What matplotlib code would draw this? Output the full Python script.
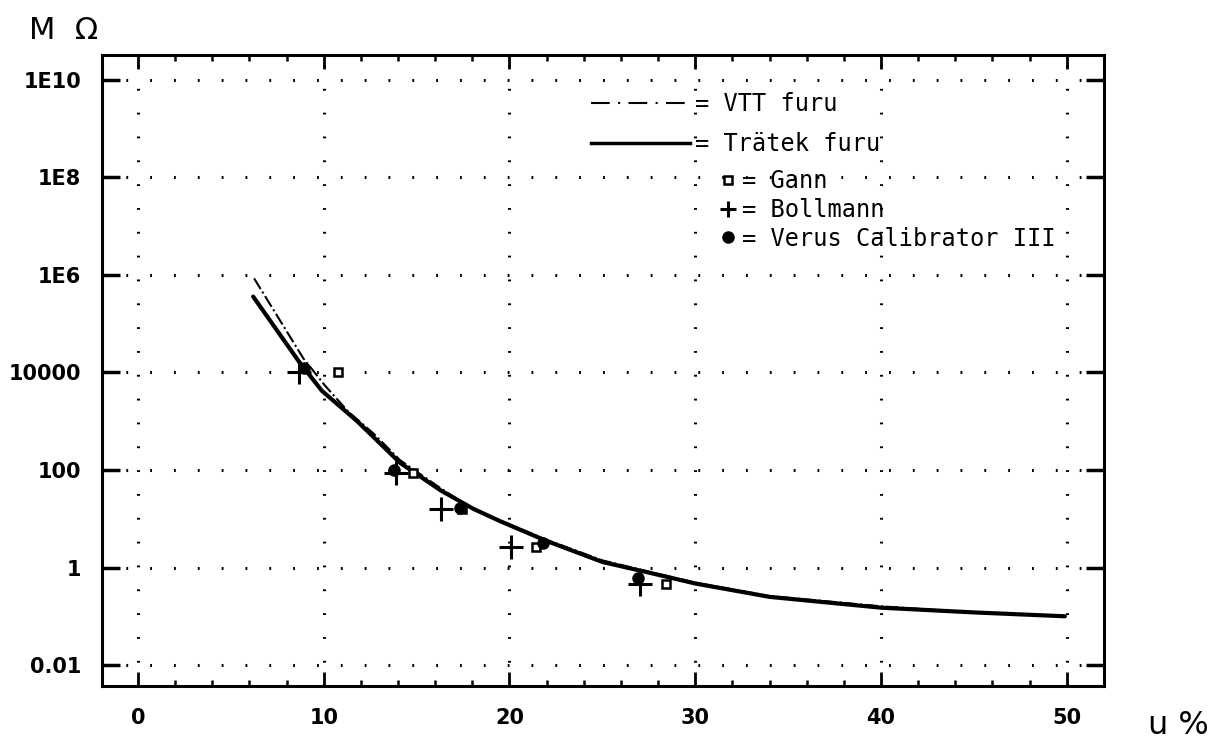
import numpy as np
import matplotlib
matplotlib.use("Agg")
import matplotlib.pyplot as plt
from matplotlib.lines import Line2D
from matplotlib.ticker import FixedLocator, FixedFormatter, MultipleLocator

# moisture content u % and resistance in M ohm
vtt_u = [6.25, 8.9, 10.1, 11.3, 12.7, 14.1, 16.3, 18.1, 20, 22, 25, 28, 30, 34, 40, 45, 49.9]
vtt_r = [8.5e5, 1.95e4, 5.2e3, 1.6e3, 550, 160, 42, 15, 7.6, 3.7, 1.4, 0.74, 0.49, 0.26, 0.16, 0.12, 0.10]

tra_u = [6.2, 8.65, 9.9, 11.8, 14.1, 16.3, 18.05, 19.5, 22, 25, 28, 30, 34, 40, 45, 49.9]
tra_r = [3.6e5, 1.7e4, 4.2e3, 1.0e3, 141, 38, 16, 8.9, 3.5, 1.3, 0.71, 0.47, 0.25, 0.15, 0.12, 0.10]

gann_u = [10.75, 14.8, 17.45, 21.4, 28.4]
gann_r = [1.0e4, 87, 16, 2.6, 0.47]

boll_u = [8.65, 13.9, 16.3, 20.1, 27.0]
boll_r = [1.0e4, 87, 16, 2.6, 0.45]

verus_u = [8.95, 13.8, 17.35, 21.8, 26.9]
verus_r = [1.25e4, 100, 17, 3.2, 0.6]

ytick_vals = [1e-2, 1, 1e2, 1e4, 1e6, 1e8, 1e10]
ytick_labels = ["0.01", "1", "100", "10000", "1E6", "1E8", "1E10"]
xtick_vals = [0, 10, 20, 30, 40, 50]

fig = plt.figure(figsize=(12.21, 7.43), dpi=100)
ax = fig.add_axes([0.0835, 0.0767, 0.8206, 0.8493])

ax.set_yscale("log")
ax.set_xlim(-1.94, 52.0)
ax.set_ylim(10**-2.43, 10**10.51)

ax.plot(vtt_u, vtt_r, color="black", lw=1.5, linestyle=(0, (6, 1.5, 1, 1.5)))
ax.plot(tra_u, tra_r, color="black", lw=3, solid_capstyle="round")
ax.plot(gann_u, gann_r, ls="none", marker="s", ms=6, mfc="white", mec="black", mew=1.8)
ax.plot(boll_u, boll_r, ls="none", marker="+", ms=17, mec="black", mew=2.2)
ax.plot(verus_u, verus_r, ls="none", marker="o", ms=8, mfc="black", mec="black")

# axes / ticks
for s in ax.spines.values():
    s.set_linewidth(2.2)
ax.yaxis.set_major_locator(FixedLocator(ytick_vals))
ax.yaxis.set_major_formatter(FixedFormatter(ytick_labels))
ax.yaxis.set_minor_locator(FixedLocator([]))
ax.xaxis.set_major_locator(FixedLocator(xtick_vals))
ax.xaxis.set_minor_locator(MultipleLocator(2))
ax.tick_params(axis="y", which="major", direction="in", length=13, width=2.5,
               left=True, right=True, pad=15, labelsize=15)
ax.tick_params(axis="x", which="major", direction="in", length=10, width=2,
               top=True, bottom=True, pad=16, labelsize=15)
ax.tick_params(axis="x", which="minor", direction="in", length=4, width=1.8,
               top=True, bottom=True)
for lab in ax.get_xticklabels() + ax.get_yticklabels():
    lab.set_fontweight("bold")

ax.grid(True, which="major", color="black", lw=2.2, linestyle=(0, (0.6, 7.2)))

# legends
mono = {"family": "DejaVu Sans Mono", "size": 17}
h1 = [Line2D([], [], color="black", lw=1.5, linestyle=(0, (9, 4, 1, 4))),
      Line2D([], [], color="black", lw=2.5)]
leg1 = ax.legend(h1, ["= VTT furu", "= Trätek furu"], loc="upper left",
                 bbox_to_anchor=(0.488, 0.941), frameon=False, prop=mono,
                 handlelength=4.2, handletextpad=0.2, labelspacing=0.66,
                 borderpad=0, borderaxespad=0)
ax.add_artist(leg1)
h2 = [Line2D([], [], ls="none", marker="s", ms=6, mfc="white", mec="black", mew=1.8),
      Line2D([], [], ls="none", marker="+", ms=12, mec="black", mew=2.2),
      Line2D([], [], ls="none", marker="o", ms=8, mfc="black", mec="black")]
ax.legend(h2, ["= Gann", "= Bollmann", "= Verus Calibrator III"], loc="upper left",
          bbox_to_anchor=(0.613, 0.819), frameon=False, prop=mono,
          handlelength=1.0, handletextpad=0.1, labelspacing=0.2,
          borderpad=0, borderaxespad=0)

fig.text(0.024, 0.948, "M  Ω", fontsize=22)
fig.text(0.940, 0.012, "u %", fontsize=23)

fig.savefig("out.png", dpi=100)
